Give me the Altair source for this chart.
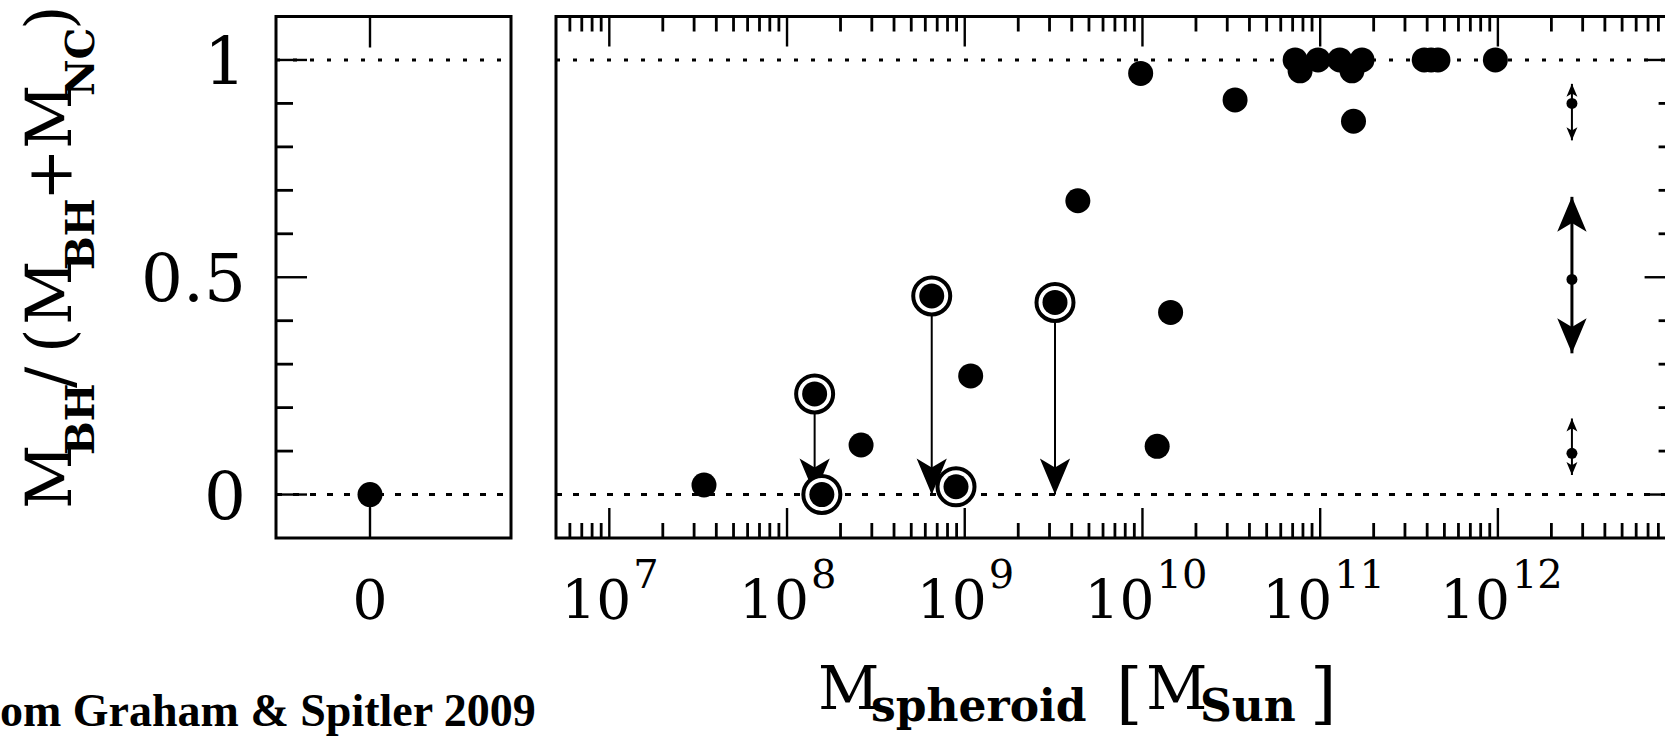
import altair as alt
import pandas as pd

FONT = "DejaVu Serif"

# ---------------- data ----------------
# right panel: filled circles, spheroid mass [M_sun] and M_BH/(M_BH+M_NC)
mass_pts = [3.41e7, 2.61e8, 1.08e9, 4.33e9, 9.77e9, 1.21e10, 1.44e10, 3.32e10,
            7.23e10, 7.71e10, 9.73e10, 1.29e11, 1.51e11, 1.54e11, 1.72e11,
            3.85e11, 4.21e11, 4.60e11, 9.68e11]
ratio_pts = [0.022, 0.114, 0.273, 0.676, 0.969, 0.111, 0.419, 0.908,
             1.0, 0.975, 1.0, 1.0, 0.975, 0.859, 1.0,
             1.0, 1.0, 1.0, 1.0]
# circled points
mass_circ = [1.43e8, 1.57e8, 6.52e8, 8.93e8, 3.22e9]
ratio_circ = [0.2315, 0.0, 0.457, 0.018, 0.442]
# upper limits (arrows down)
mass_lim = [1.43e8, 6.52e8, 3.22e9]
ratio_lim_from = [0.2315, 0.457, 0.442]
ratio_lim_to = [0.0, 0.0, 0.0]
# typical uncertainties
mass_err = [2.61e12, 2.61e12, 2.61e12]
err_mid = [0.90, 0.495, 0.095]
err_hi = [0.945, 0.685, 0.175]
err_lo = [0.815, 0.325, 0.045]
err_kind = ["small", "large", "small"]
# left panel (no spheroid)
left_x = [0]
left_ratio = [0.0]

# ticks and labels
y_major = [0, 0.5, 1]
y_major_labels = ["0", "0.5", "1"]
y_minor = [0.1, 0.2, 0.3, 0.4, 0.6, 0.7, 0.8, 0.9]
x_major_exp = [7, 8, 9, 10, 11, 12]
x_minor = [k * 10.0 ** d for d in range(6, 13) for k in range(2, 10)
           if 10 ** 6.7 < k * 10.0 ** d < 1e13]
left_x_ticks = [0]
left_x_labels = ["0"]
source_note = "om Graham & Spitler 2009"

# ---------------- layout ----------------
XL_DOM = [-1.0, 1.5]
XL_PX = [276, 511]
XR_DOM = [10 ** 6.7, 1e13]
XR_PX = [556, 1675.6]
Y_DOM = [-0.1, 1.1]
Y_PX = [538, 16.5]
MAJ, MIN = 30, 15

DOWN = "M0,0L-0.42,-1L0,-0.75L0.42,-1Z"
UP = "M0,0L-0.42,1L0,0.75L0.42,1Z"


def xl(f="x"):
    return alt.X(f"{f}:Q", scale=alt.Scale(domain=XL_DOM, range=XL_PX, nice=False, zero=False), axis=None)


def xr(f="m"):
    return alt.X(f"{f}:Q", scale=alt.Scale(type="log", domain=XR_DOM, range=XR_PX, nice=False), axis=None)


def yy(f="v"):
    return alt.Y(f"{f}:Q", scale=alt.Scale(domain=Y_DOM, range=Y_PX, nice=False, zero=False), axis=None)


layers = []

# frames
for xs, dom in [(xl, XL_DOM), (xr, XR_DOM)]:
    df = pd.DataFrame({"x": [dom[0]], "x2": [dom[1]], "v": [Y_DOM[0]], "v2": [Y_DOM[1]]})
    layers.append(alt.Chart(df).mark_rect(fillOpacity=0, stroke="black", strokeWidth=3)
                  .encode(x=xs("x"), x2="x2:Q", y=yy("v"), y2="v2:Q"))

# reference lines at 0 and 1
for xs, dom in [(xl, XL_DOM), (xr, XR_DOM)]:
    for v, dash in [(1, [4, 13]), (0, [6, 11])]:
        df = pd.DataFrame({"x": [dom[0]], "x2": [dom[1]], "v": [v]})
        layers.append(alt.Chart(df).mark_rule(strokeDash=dash, strokeWidth=3, color="black")
                      .encode(x=xs("x"), x2="x2:Q", y=yy("v")))

# y ticks: left side of left panel, right side of right panel
for vals, L, w in [(y_major, MAJ + 1, 2.4), (y_minor, MIN + 2, 2.8)]:
    df = pd.DataFrame({"x": [XL_DOM[0]] * len(vals), "v": vals})
    layers.append(alt.Chart(df).mark_rule(color="black", strokeWidth=w, x2Offset=L)
                  .encode(x=xl("x"), x2="x:Q", y=yy("v")))
    df = pd.DataFrame({"m": [XR_DOM[1]] * len(vals), "v": vals})
    layers.append(alt.Chart(df).mark_rule(color="black", strokeWidth=w, x2Offset=-L)
                  .encode(x=xr("m"), x2="m:Q", y=yy("v")))

# x ticks, top and bottom
for edge, sign in [(Y_DOM[1], 1), (Y_DOM[0], -1)]:
    df = pd.DataFrame({"x": left_x_ticks, "v": [edge] * len(left_x_ticks)})
    layers.append(alt.Chart(df).mark_rule(color="black", strokeWidth=2.4, y2Offset=sign * (MAJ + 1))
                  .encode(x=xl("x"), y=yy("v"), y2="v:Q"))
    for vals, L, w in [([10.0 ** e for e in x_major_exp], MAJ, 2.4), (x_minor, MIN, 2.8)]:
        df = pd.DataFrame({"m": vals, "v": [edge] * len(vals)})
        layers.append(alt.Chart(df).mark_rule(color="black", strokeWidth=w, y2Offset=sign * L)
                      .encode(x=xr("m"), y=yy("v"), y2="v:Q"))

# upper-limit arrows
lim = pd.DataFrame({"m": mass_lim, "v": ratio_lim_from, "t": ratio_lim_to})
layers.append(alt.Chart(lim).mark_rule(color="black", strokeWidth=2)
              .encode(x=xr("m"), y=yy("v"), y2="t:Q"))
layers.append(alt.Chart(lim).mark_point(shape=DOWN, size=5184, filled=True, color="black",
                                        opacity=1, strokeWidth=0)
              .encode(x=xr("m"), y=yy("t")))

# circled points: ring then dot
circ = pd.DataFrame({"m": mass_circ, "v": ratio_circ})
layers.append(alt.Chart(circ).mark_point(shape="circle", size=1369, filled=True, fill="white",
                                         stroke="black", strokeWidth=4, opacity=1)
              .encode(x=xr("m"), y=yy("v")))
layers.append(alt.Chart(circ).mark_circle(size=625, color="black", opacity=1)
              .encode(x=xr("m"), y=yy("v")))

# filled points
pts = pd.DataFrame({"m": mass_pts, "v": ratio_pts})
layers.append(alt.Chart(pts).mark_circle(size=625, color="black", opacity=1)
              .encode(x=xr("m"), y=yy("v")))
lp = pd.DataFrame({"x": left_x, "v": left_ratio})
layers.append(alt.Chart(lp).mark_circle(size=625, color="black", opacity=1)
              .encode(x=xl("x"), y=yy("v")))

# typical error bars
HEAD = {"small": 676, "large": 4900}
WID = {"small": 2, "large": 3}
err = pd.DataFrame({"m": mass_err, "v": err_mid, "hi": err_hi, "lo": err_lo, "k": err_kind})
err["head"] = err["k"].map(HEAD)
err["w"] = err["k"].map(WID)
layers.append(alt.Chart(err).mark_rule(color="black")
              .encode(x=xr("m"), y=yy("lo"), y2="hi:Q", strokeWidth=alt.StrokeWidth("w:Q", scale=None)))
layers.append(alt.Chart(err).mark_point(shape=UP, filled=True, color="black", opacity=1, strokeWidth=0)
              .encode(x=xr("m"), y=yy("hi"), size=alt.Size("head:Q", scale=None)))
layers.append(alt.Chart(err).mark_point(shape=DOWN, filled=True, color="black", opacity=1, strokeWidth=0)
              .encode(x=xr("m"), y=yy("lo"), size=alt.Size("head:Q", scale=None)))
layers.append(alt.Chart(err).mark_circle(size=120, color="black", opacity=1)
              .encode(x=xr("m"), y=yy("v")))

# y tick labels
ylab = pd.DataFrame({"x": [XL_DOM[0]] * 3, "v": y_major, "t": y_major_labels})
layers.append(alt.Chart(ylab).mark_text(align="right", baseline="alphabetic", dx=-30, dy=24,
                                        font=FONT, fontSize=66, color="black")
              .encode(x=xl("x"), y=yy("v"), text="t:N"))

# x tick labels
xlab = pd.DataFrame({"x": left_x_ticks, "v": [Y_DOM[0]], "t": left_x_labels})
layers.append(alt.Chart(xlab).mark_text(align="center", baseline="alphabetic", dy=81,
                                        font=FONT, fontSize=55, color="black")
              .encode(x=xl("x"), y=yy("v"), text="t:N"))
for exps, dxb, dxe in [([e for e in x_major_exp if e < 10], 22, 24),
                       ([e for e in x_major_exp if e >= 10], 12, 14)]:
    df = pd.DataFrame({"m": [10.0 ** e for e in exps], "v": [Y_DOM[0]] * len(exps),
                       "b": ["10"] * len(exps), "e": [str(e) for e in exps]})
    layers.append(alt.Chart(df).mark_text(align="right", baseline="alphabetic", dx=dxb, dy=81,
                                          font=FONT, fontSize=55, color="black")
                  .encode(x=xr("m"), y=yy("v"), text="b:N"))
    layers.append(alt.Chart(df).mark_text(align="left", baseline="alphabetic", dx=dxe, dy=50,
                                          font=FONT, fontSize=40, color="black")
                  .encode(x=xr("m"), y=yy("v"), text="e:N"))

# axis titles (with subscripts), composed of text pieces
XTITLE = [("M", 818, 709, 60, "normal"), ("spheroid", 871, 721, 44, "bold"),
          ("[", 1116, 716, 68, "normal"), ("M", 1146, 709, 60, "normal"),
          ("Sun", 1200, 721, 44, "bold"), ("]", 1310, 716, 68, "normal")]
for t, px, py, fs, fw in XTITLE:
    layers.append(alt.Chart(pd.DataFrame({"t": [t]})).mark_text(
        align="left", baseline="alphabetic", font=FONT, fontSize=fs, fontWeight=fw, color="black")
        .encode(x=alt.value(px), y=alt.value(py), text="t:N"))

YTITLE = [("M", 509, 71, 63, "normal"), ("BH", 455, 94, 40, "bold"),
          ("/", 388, 71, 63, "normal"), ("(", 353, 71, 63, "normal"),
          ("M", 325, 71, 63, "normal"), ("BH", 270, 94, 40, "bold"),
          ("+", 201, 71, 63, "normal"), ("M", 149, 71, 63, "normal"),
          ("NC", 96, 94, 40, "bold"), (")", 30, 71, 63, "normal")]
for t, py, px, fs, fw in YTITLE:
    layers.append(alt.Chart(pd.DataFrame({"t": [t]})).mark_text(
        align="left", baseline="alphabetic", angle=270, font=FONT, fontSize=fs, fontWeight=fw,
        color="black")
        .encode(x=alt.value(px), y=alt.value(py), text="t:N"))

# source note (the reference shows it cut at the left edge)
layers.append(alt.Chart(pd.DataFrame({"t": [source_note]})).mark_text(
    align="left", baseline="alphabetic", font="Liberation Serif", fontSize=46, fontWeight="bold",
    color="black")
    .encode(x=alt.value(0), y=alt.value(726), text="t:N"))

chart = (alt.layer(*layers)
         .resolve_scale(x="independent")
         .properties(width=1665, height=742, padding=0,
                     autosize=alt.AutoSizeParams(type="none"), background="white")
         .configure_view(stroke=None))

chart.save("out.html", embed_options={"renderer": "svg", "actions": False})
